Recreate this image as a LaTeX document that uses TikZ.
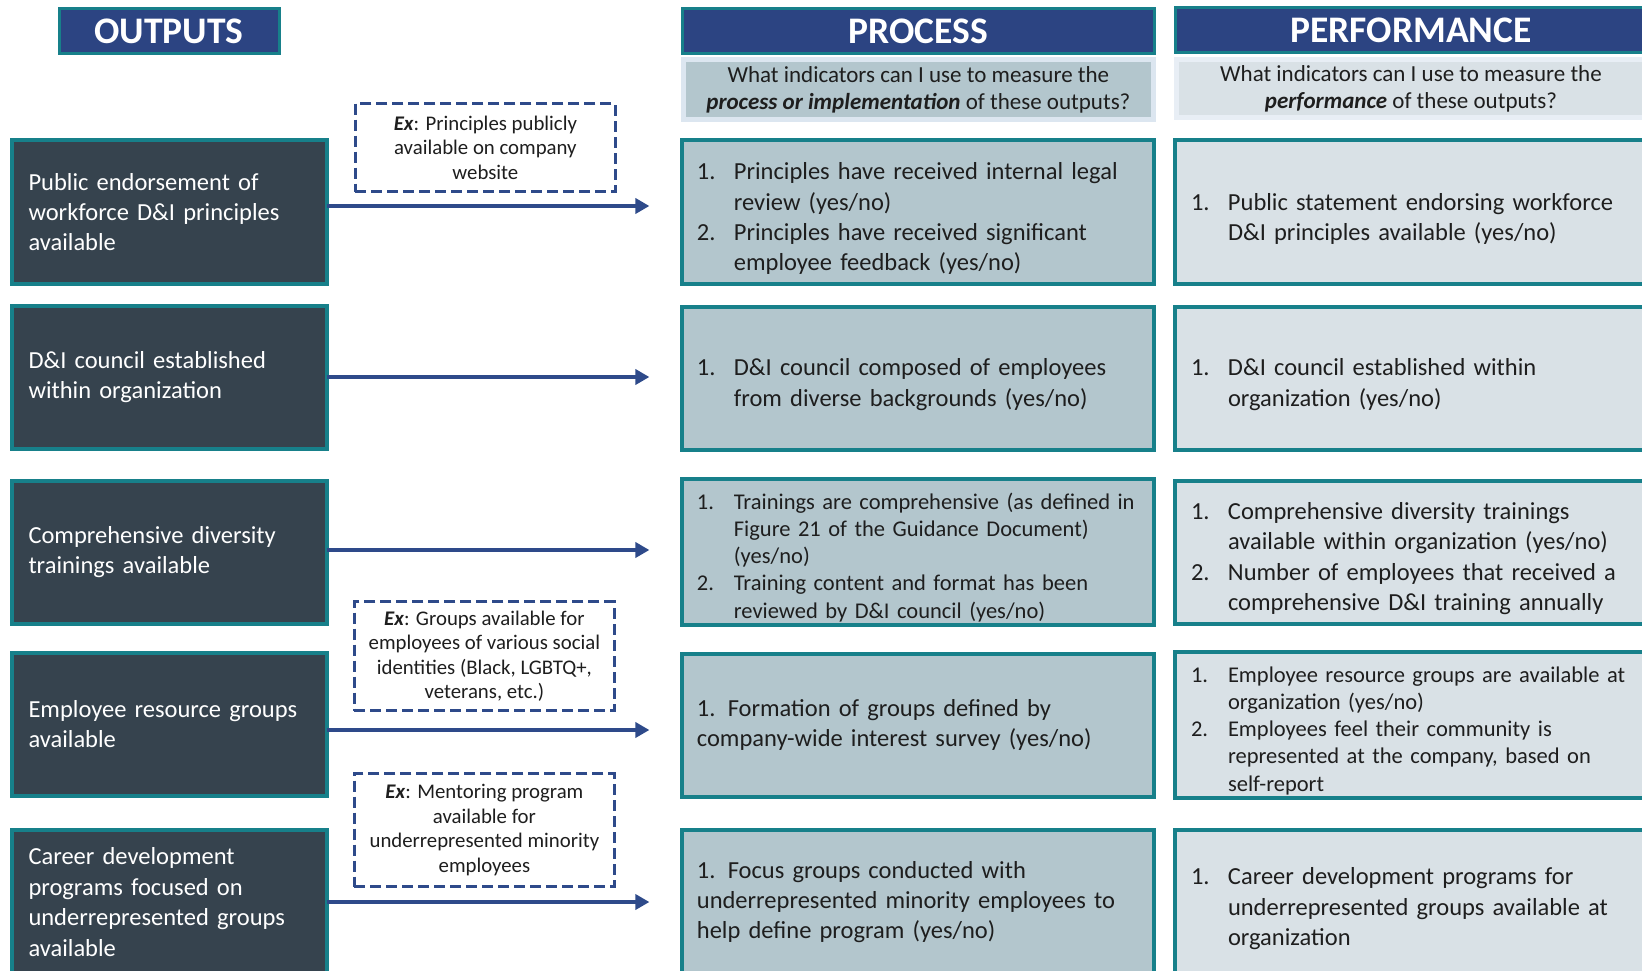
\documentclass[tikz,border=0pt]{standalone}
\usepackage{fontspec}
\setmainfont{Carlito}
\usetikzlibrary{positioning,arrows.meta}
\definecolor{navy}{HTML}{2C4482}
\definecolor{bordteal}{HTML}{17808A}
\definecolor{slate}{HTML}{36434E}
\definecolor{procfill}{HTML}{B3C6CD}
\definecolor{perffill}{HTML}{D9E1E6}
\definecolor{qprcline}{HTML}{DCE6F0}
\definecolor{qprfline}{HTML}{E8EEF5}
\definecolor{arrowblue}{HTML}{2E4A8A}
\definecolor{ink}{HTML}{1E1E1E}
\newcommand{\numit}[2]{\par\hangindent=37pt\hangafter=1\noindent\makebox[37pt][l]{#1}#2\par}
\newcommand{\exmark}{\textbf{\textit{Ex}}}

\begin{document}
\begin{tikzpicture}[x=1pt,y=-1pt,outer sep=0pt]
    \tikzstyle{HDR} = [rectangle, draw=bordteal, line width=3pt, fill=navy, text=white, font=\fontsize{37.5}{42}\selectfont\bfseries, minimum height=45pt]
    \tikzstyle{QST} = [rectangle, line width=5pt, text=ink, font=\fontsize{23}{27}\selectfont, align=center, minimum width=470pt, inner sep=0pt]
    \tikzstyle{OUT} = [rectangle, draw=bordteal, line width=4pt, fill=slate, text=white, font=\fontsize{24.5}{30.4}\selectfont, text width=281pt, align=left, inner xsep=17pt, minimum height=143pt]
    \tikzstyle{PRC} = [rectangle, draw=bordteal, line width=4pt, fill=procfill, text=ink, font=\fontsize{24.5}{30.4}\selectfont, text width=443pt, align=left, inner xsep=14.5pt, minimum height=143pt]
    \tikzstyle{PRF} = [rectangle, draw=bordteal, line width=4pt, fill=perffill, text=ink, font=\fontsize{24.5}{30.4}\selectfont, text width=444pt, align=left, inner xsep=16pt, minimum height=143pt]
    \tikzstyle{EXM} = [rectangle, draw=arrowblue, line width=3.5pt, dash pattern=on 11pt off 5pt, fill=white, text=ink, font=\fontsize{20.8}{24.5}\selectfont, align=center, minimum width=260pt, inner sep=0pt]
    \tikzstyle{FLOW} = [draw=arrowblue, line width=3.5pt, -{Triangle[length=14pt,width=15pt]}, shorten >=33pt]
    \useasboundingbox[fill=white] (0,0) rectangle (1642,971);
    % column headers
    \node[HDR, minimum width=220pt] (hout) at (169,31.5) {OUTPUTS};
    \node[HDR, minimum width=472pt] (hprc) at (918.4,31.5) {PROCESS};
    \node[HDR, minimum width=472pt] (hprf) at (1411,30.5) {PERFORMANCE};
    \node[QST, fill=procfill, draw=qprcline, minimum height=60pt] (qprc) at (918.4,90) {What indicators can I use to measure the\\\textbf{\textit{process or implementation}} of these outputs?};
    \node[QST, fill=perffill, draw=qprfline, minimum height=58pt] (qprf) at (1411,89) {What indicators can I use to measure the\\\textbf{\textit{performance}} of these outputs?};
    % outputs
    \node[OUT] (o1) at (169,212) {Public endorsement of\\workforce D\&I principles\\available};
    \node[OUT] (o2) at (169,377) {D\&I council established\\within organization};
    \node[OUT] (o3) at (169,552) {Comprehensive diversity\\trainings available};
    \node[OUT] (o4) at (169,724) {Employee resource groups\\available};
    \node[OUT, minimum height=145pt] (o5) at (169,902) {Career development\\programs focused on\\underrepresented groups\\available};
    % process
    \node[PRC] (p1) at (918.4,212) {\numit{1.}{Principles have received internal legal\newline review (yes/no)}\numit{2.}{Principles have received significant\newline employee feedback (yes/no)}};
    \node[PRC] (p2) at (918.4,378) {\numit{1.}{D\&I council composed of employees\newline from diverse backgrounds (yes/no)}};
    \node[PRC, font=\fontsize{22.5}{27.2}\selectfont] (p3) at (918.4,552) {\numit{1.}{Trainings are comprehensive (as defined in\newline Figure 21 of the Guidance Document)\newline (yes/no)}\numit{2.}{Training content and format has been\newline reviewed by D\&I council (yes/no)}};
    \node[PRC] (p4) at (918.4,725) {1. Formation of groups defined by\\company-wide interest survey (yes/no)};
    \node[PRC, minimum height=145pt] (p5) at (918.4,902) {1. Focus groups conducted with\\underrepresented minority employees to\\help define program (yes/no)};
    % performance
    \node[PRF] (r1) at (1413,212) {\numit{1.}{Public statement endorsing workforce\newline D\&I principles available (yes/no)}};
    \node[PRF] (r2) at (1413,378) {\numit{1.}{D\&I council established within\newline organization (yes/no)}};
    \node[PRF] (r3) at (1413,552) {\numit{1.}{Comprehensive diversity trainings\newline available within organization (yes/no)}\numit{2.}{Number of employees that received a\newline comprehensive D\&I training annually}};
    \node[PRF, font=\fontsize{22.5}{27.2}\selectfont] (r4) at (1413,725) {\numit{1.}{Employee resource groups are available at\newline organization (yes/no)}\numit{2.}{Employees feel their community is\newline represented at the company, based on\newline self-report}};
    \node[PRF, minimum height=145pt] (r5) at (1413,902) {\numit{1.}{Career development programs for\newline underrepresented groups available at\newline organization}};
    % examples
    \node[EXM, minimum height=88pt] (d1) at (485.4,147.6) {\exmark: Principles publicly\\available on company\\website};
    \node[EXM, minimum height=109pt] (d2) at (484.4,656) {\exmark: Groups available for\\employees of various social\\identities (Black, LGBTQ+,\\veterans, etc.)};
    \node[EXM, minimum height=113pt] (d3) at (484.4,830) {\exmark: Mentoring program\\available for\\underrepresented minority\\employees};
    % arrows
    \foreach \i/\dy in {1/6,2/0,3/2,4/-6,5/0}
      \draw[FLOW] ([yshift=\dy pt]o\i.east) -- ([yshift=\dy pt]o\i.east -| p\i.west);
\end{tikzpicture}
\end{document}
